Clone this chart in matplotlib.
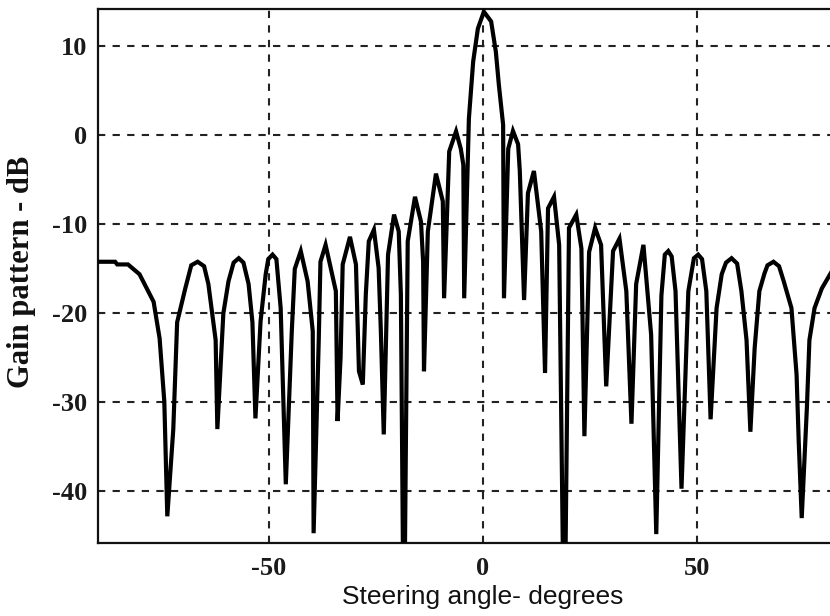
import matplotlib
matplotlib.use("Agg")
import matplotlib.pyplot as plt

# Steering angle (degrees) and gain pattern (dB)
angle = [-90, -86, -85.5, -83, -80.3, -77.0, -75.6, -74.5, -73.8, -72.4, -71.5, -69.6,
         -68.2, -66.7, -65.2, -64.2, -62.5, -62.1, -60.7, -59.5, -58.3, -57.1, -56.0,
         -54.8, -53.9, -53.2, -52.0, -50.8, -50.2, -49.2, -48.3, -47.3, -46.1, -44.7,
         -44.0, -42.6, -41.0, -39.8, -39.6, -38.4, -38.0, -36.8, -35.1, -34.4, -34.0,
         -33.3, -32.8, -31.1, -29.7, -29.0, -28.1, -27.4, -26.7, -25.5, -24.4, -23.9,
         -23.2, -22.2, -20.8, -19.7, -19.2, -18.5, -17.6, -15.9, -14.5, -14.0, -13.8,
         -12.9, -11.0, -9.4, -9.1, -7.9, -6.3, -5.2, -4.6, -4.4, -3.3, -2.3, -1.2, 0.2,
         1.9, 3.0, 3.7, 4.7, 4.9, 5.9, 7.0, 8.2, 8.6, 9.6, 10.5, 11.9, 13.6, 14.5, 15.2,
         16.6, 17.8, 19.0, 20.1, 21.8, 23.0, 23.7, 24.8, 26.2, 27.6, 28.8, 30.4, 31.9,
         33.5, 34.7, 35.8, 37.5, 39.3, 40.5, 41.7, 42.5, 43.3, 44.1, 45.0, 46.4, 48.0,
         49.3, 50.3, 51.2, 52.2, 53.2, 54.6, 55.8, 56.8, 58.1, 59.4, 60.4, 61.6, 62.5,
         63.5, 64.6, 65.8, 66.5, 67.9, 69.2, 70.3, 72.1, 73.3, 73.8, 74.5, 75.7, 76.3,
         77.5, 79.2, 81.5]
gain_db = [-14.2, -14.2, -14.5, -14.5, -15.6, -18.7, -22.8, -29.9, -42.8, -33.0, -21.0, -17.2,
           -14.6, -14.2, -14.7, -16.7, -23.0, -33.0, -20.0, -16.4, -14.3, -13.8, -14.3,
           -16.7, -21.0, -31.8, -20.9, -15.6, -13.9, -13.4, -13.9, -19.4, -39.2, -22.0,
           -15.0, -13.0, -16.4, -22.0, -44.7, -23.0, -14.2, -12.3, -16.0, -17.5, -32.1,
           -25.0, -14.5, -11.4, -14.5, -26.5, -28.0, -17.9, -11.9, -10.6, -14.9, -21.7,
           -33.6, -13.4, -8.9, -10.8, -17.9, -60.0, -11.9, -6.9, -9.7, -14.2, -26.5,
           -10.8, -4.3, -7.4, -18.3, -1.8, 0.45, -1.5, -3.3, -18.3, 1.9, 8.3, 12.0, 13.9,
           12.8, 9.4, 5.7, 1.2, -18.3, -1.5, 0.5, -1.0, -4.0, -18.5, -6.5, -4.0, -10.8, -26.7, -8.2,
           -6.9, -12.3, -60.0, -10.4, -8.9, -12.7, -33.8, -13.1, -10.4, -12.3, -28.2, -13.0, -11.6,
           -17.5, -32.4, -16.7, -12.3, -22.4, -44.8, -18.0, -13.4, -13.0, -13.6, -17.5, -39.7, -17.5,
           -13.8, -13.4, -13.9, -17.5, -31.9, -19.4, -15.6, -14.3, -13.8, -14.4, -17.5, -23.0, -33.3,
           -23.9, -17.5, -15.5, -14.6, -14.2, -14.7, -16.4, -19.4, -26.9, -34.4, -43.0, -30.7, -23.0,
           -19.4, -17.2, -15.3]

x_ticks = [-50, 0, 50]
x_ticklabels = ["-50", "0", "50"]
y_ticks = [10, 0, -10, -20, -30, -40]
y_ticklabels = ["10", "0", "-10", "-20", "-30", "-40"]

W, H = 830, 616
fig = plt.figure(figsize=(W / 100, H / 100), dpi=100)
ax = fig.add_axes([98 / W, 1 - 543 / H, 1 - 98 / W + 0.002, (543 - 9) / H])

ax.plot(angle, gain_db, color="black", lw=3.0, solid_joinstyle="miter", zorder=3)

ax.set_xlim(-90, 81.5)
ax.set_ylim(-45.8, 14.2)
ax.set_xticks(x_ticks)
ax.set_xticklabels(x_ticklabels)
ax.set_yticks(y_ticks)
ax.set_yticklabels(y_ticklabels)

ax.grid(True, color="#222222", linestyle=(0, (3.5, 3.5)), lw=1.5)
for side in ["left", "top", "bottom"]:
    ax.spines[side].set_linewidth(1.6)
    ax.spines[side].set_color("#111111")
ax.spines["right"].set_visible(False)

ax.tick_params(axis="both", direction="in", length=4, width=1.2, color="#222222")
ax.tick_params(axis="y", pad=8)
ax.tick_params(axis="x", pad=10)
for lab in ax.get_xticklabels() + ax.get_yticklabels():
    lab.set_fontfamily("Liberation Serif")
    lab.set_fontweight("bold")
    lab.set_fontsize(19)
    lab.set_color("#1a1a1a")

fig.text(483 / W, 1 - 597 / H, "Steering angle- degrees", ha="center", va="center",
         fontfamily="Liberation Sans", fontsize=19, color="#111111")
fig.text(22 / W, 1 - 272 / H, "Gain pattern - dB", ha="center", va="center", rotation=90,
         fontfamily="Liberation Serif", fontweight="bold", fontsize=22, color="#111111")

fig.savefig("out.png", dpi=100, facecolor="white")
